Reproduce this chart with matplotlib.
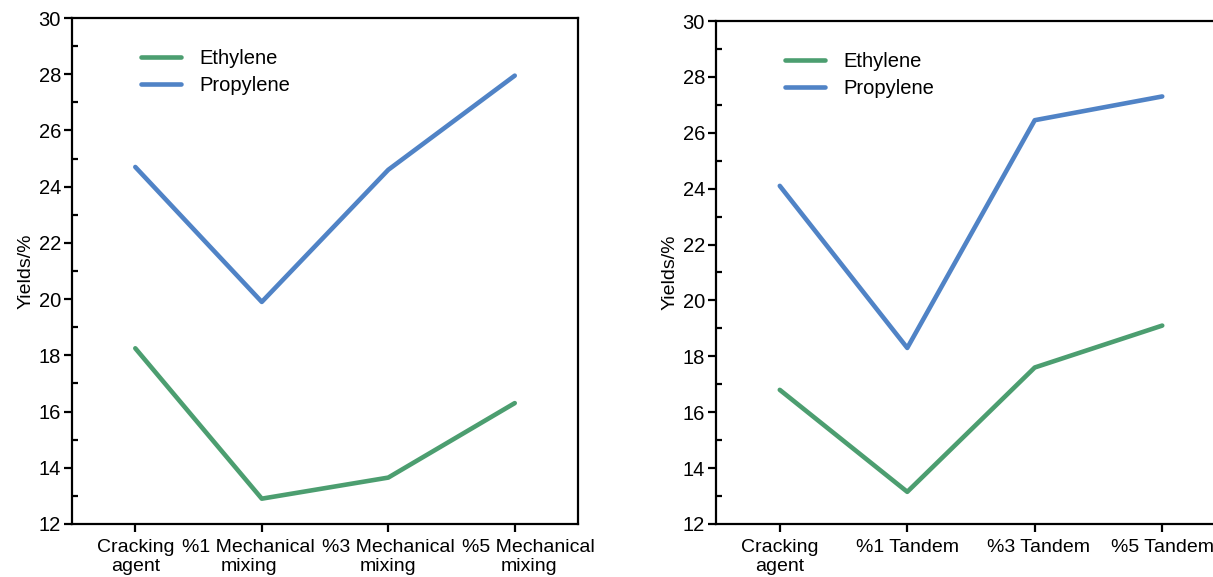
import matplotlib
matplotlib.use("Agg")
import matplotlib.pyplot as plt
import matplotlib.transforms as mtransforms
from matplotlib.ticker import MultipleLocator

plt.rcParams['font.family'] = ['Liberation Sans', 'DejaVu Sans']

#%% Data
labels_mech = ["Cracking\nagent", "%1 Mechanical\nmixing", "%3 Mechanical\nmixing", "%5 Mechanical\nmixing"]
labels_tandem = ["Cracking\nagent", "%1 Tandem", "%3 Tandem", "%5 Tandem"]

ethylene_mech = [18.25, 12.9, 13.65, 16.3]
propylene_mech = [24.7, 19.9, 24.6, 27.95]

ethylene_tandem = [16.8, 13.15, 17.6, 19.1]
propylene_tandem = [24.1, 18.3, 26.45, 27.3]

green = '#4c9e70'
blue = '#5083c6'

#%% Plot
fig = plt.figure(figsize=(12.13, 5.77), dpi=100)
ax1 = fig.add_axes([0.0594, 0.0919, 0.4171, 0.8769])
ax2 = fig.add_axes([0.5903, 0.0919, 0.4204, 0.8717])


def draw_panel(ax, labels, eth, prop, shifts):
    x = list(range(len(labels)))
    ax.plot(x, eth, color=green, lw=3.3, label='Ethylene', solid_capstyle='round')
    ax.plot(x, prop, color=blue, lw=3.3, label='Propylene', solid_capstyle='round')
    ax.set_xlim(-0.5, 3.5)
    ax.set_ylim(12, 30)
    ax.set_xticks(x)
    ax.set_xticklabels(labels, fontsize=14, linespacing=1.15)
    ax.yaxis.set_major_locator(MultipleLocator(2))
    ax.yaxis.set_minor_locator(MultipleLocator(1))
    ax.tick_params(axis='both', which='major', direction='out', length=6, width=1.6,
                   labelsize=14.5, pad=2)
    ax.tick_params(axis='x', which='major', labelsize=14, pad=5)
    ax.tick_params(axis='y', which='minor', direction='in', length=4, width=1.6)
    for s in ax.spines.values():
        s.set_linewidth(1.6)
    # nudge crowded tick labels sideways (pixels)
    for lab, dx in zip(ax.get_xticklabels(), shifts):
        lab.set_transform(lab.get_transform() +
                          mtransforms.ScaledTranslation(dx / 100, 0, fig.dpi_scale_trans))
    ax.set_ylabel('Yields/%', fontsize=14, labelpad=3)
    ax.legend(loc='upper left', bbox_to_anchor=(0.1, 0.975), frameon=False,
              fontsize=14.5, handlelength=2.0, handletextpad=0.9, labelspacing=0.42)


draw_panel(ax1, labels_mech, ethylene_mech, propylene_mech, [0, -13, 0, 14])
draw_panel(ax2, labels_tandem, ethylene_tandem, propylene_tandem, [0, 0, 4, 0])

plt.savefig('out.png', dpi=100)
